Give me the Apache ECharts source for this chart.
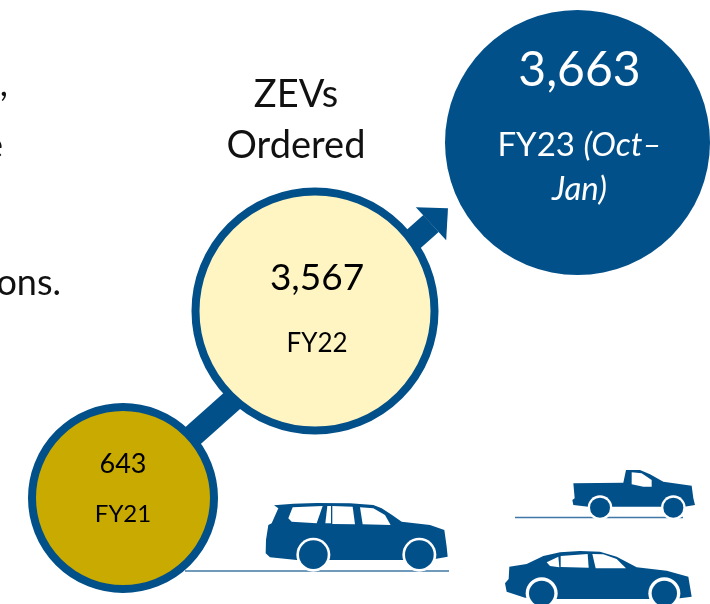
<!DOCTYPE html>
<html lang="en">
<head>
    <meta charset="UTF-8">
    <title>ZEVs Ordered</title>
    <style>
        html,body{margin:0;padding:0;background:#fff;}
        #main{width:710px;height:604px;}
    </style>
    <script src="https://cdn.jsdelivr.net/npm/echarts@6/dist/echarts.min.js"></script>
</head>
<body>
<div id="main"></div>
<script>
    // values
    let fiscalYears = ['FY21', 'FY22', 'FY23'];
    let zevsOrdered = [643, 3567, 3663];
    let title = ['ZEVs', 'Ordered'];

    // where things sit, in page pixels (axes below are 710 x 604)
    let centers = [[123, 498], [315, 311], [577.5, 142.5]];
    let sizes = [182, 239, 265];
    let fills = ['#c8aa00', '#fff5c3', '#02508a'];
    let navy = '#02508a';
    let font = 'Lato';

    function vehicle(x, y, body, windows, wheels, wheelR, ringR) {
        let kids = [{type: 'polygon', shape: {points: body}, style: {fill: navy}}];
        windows.forEach(function (w) {
            kids.push({type: 'polygon', shape: {points: w}, style: {fill: '#fff'}});
        });
        wheels.forEach(function (c) {
            kids.push({type: 'circle', shape: {cx: c[0], cy: c[1], r: ringR}, style: {fill: '#fff'}});
            kids.push({type: 'circle', shape: {cx: c[0], cy: c[1], r: wheelR}, style: {fill: navy}});
        });
        return {type: 'group', x: x, y: y, scaleX: 1 / 3, scaleY: 1 / 3, children: kids};
    }

    function ground(x1, x2, y) {
        return {type: 'line', shape: {x1: x1, y1: y, x2: x2, y2: y}, style: {stroke: '#3f78a6', lineWidth: 1.5}};
    }

    function leftText(s, x, y) {
        return {type: 'text', x: x, y: y, style: {text: s, fill: '#111', font: '36px ' + font, textAlign: 'right', textVerticalAlign: 'middle'}};
    }

    let suv = vehicle(250, 480,
        [[72,76],[130,71],[200,69],[300,70],[370,75],[395,85],[425,104],[455,125],[540,135],[583,150],[590,200],[593,230],[555,237],[460,240],[240,240],[140,240],[60,232],[47,220],[48,180],[55,135],[65,130],[85,85]],
        [[[128,82],[218,78],[200,130],[125,125],[115,115]],
         [[232,78],[243,78],[243,130],[226,130]],
         [[247,78],[308,80],[315,133],[247,132]],
         [[330,82],[370,85],[405,105],[422,135],[338,133]]],
        [[190,224],[508,224]], 43, 51);

    let pickup = vehicle(500, 455,
        [[220,85],[370,83],[378,45],[420,45],[450,58],[490,80],[575,92],[580,130],[585,150],[553,155],[335,155],[265,155],[220,150],[217,135],[224,130]],
        [[[395,52],[425,55],[455,75],[455,95],[430,95],[395,88]]],
        [[300,158],[520,158]], 30, 37);

    let sedan = vehicle(500, 455,
        [[28,335],[80,327],[130,303],[180,292],[240,288],[300,290],[350,305],[410,337],[500,347],[565,365],[575,425],[540,430],[448,432],[170,432],[75,428],[20,410],[15,385],[26,372]],
        [[[140,322],[175,305],[178,337],[150,333]],
         [[182,303],[263,297],[266,338],[182,336]],
         [[277,297],[310,298],[350,312],[378,340],[287,340]]],
        [[125,415],[493,415]], 38, 48);

    let labelRich = {
        big0: {fontFamily: font, fontSize: 27, color: '#000', lineHeight: 50},
        small0: {fontFamily: font, fontSize: 24, color: '#000', lineHeight: 50},
        big1: {fontFamily: font, fontSize: 37, color: '#000', lineHeight: 66},
        small1: {fontFamily: font, fontSize: 26, color: '#000', lineHeight: 66},
        big2: {fontFamily: font, fontSize: 48, color: '#fff', lineHeight: 106},
        small2: {fontFamily: font, fontSize: 33, color: '#fff', lineHeight: 44},
        ital: {fontFamily: font, fontSize: 33, color: '#fff', lineHeight: 44, fontStyle: 'italic'}
    };

    function labelText(i) {
        let v = '{big' + i + '|' + zevsOrdered[i].toLocaleString('en-US') + '}\n';
        if (i === 2) {
            return v + '{small2|' + fiscalYears[i] + ' }{ital|(Oct–}\n{ital|Jan)}';
        }
        return v + '{small' + i + '|' + fiscalYears[i] + '}';
    }

    let points = fiscalYears.map(function (name, i) {
        return {
            name: name,
            value: centers[i],
            symbolSize: sizes[i],
            itemStyle: {color: fills[i], borderColor: navy, borderWidth: i === 2 ? 0 : 8, opacity: 1},
            label: {show: true, position: 'inside', align: 'center', offset: [[0, -9], [2, 0], [2, -28]][i], formatter: labelText(i), rich: labelRich}
        };
    });

    let myChart = echarts.init(document.getElementById('main'));
    let option = {
        animation: false,
        backgroundColor: '#fff',
        grid: {left: 0, right: 0, top: 0, bottom: 0},
        xAxis: {type: 'value', min: 0, max: 710, show: false},
        yAxis: {type: 'value', min: 0, max: 604, inverse: true, show: false},
        graphic: [
            leftText(',', 8, 84),
            leftText('e', 3, 146),
            leftText('ons.', 61, 283),
            {type: 'text', x: 296, y: 95, style: {text: title[0], fill: '#111', font: '38px ' + font, textAlign: 'center', textVerticalAlign: 'middle'}},
            {type: 'text', x: 296, y: 146, style: {text: title[1], fill: '#111', font: '38px ' + font, textAlign: 'center', textVerticalAlign: 'middle'}},
            ground(185, 449, 571),
            ground(515, 683, 517.5),
            suv, pickup, sedan
        ],
        series: [
            {
                type: 'line', z: 1, silent: true, showSymbol: false, clip: false,
                lineStyle: {color: navy, width: 23, cap: 'butt'},
                data: [centers[0], [431, 223.5]]
            },
            {
                type: 'scatter', z: 1, silent: true, clip: false,
                symbol: 'triangle', symbolSize: [45, 23], symbolRotate: -47.6,
                itemStyle: {color: navy, opacity: 1},
                data: [[439.5, 216]]
            },
            {
                type: 'scatter', z: 3, silent: true, clip: false,
                data: points
            }
        ]
    };
    myChart.setOption(option, true);
</script>
</body>
</html>
